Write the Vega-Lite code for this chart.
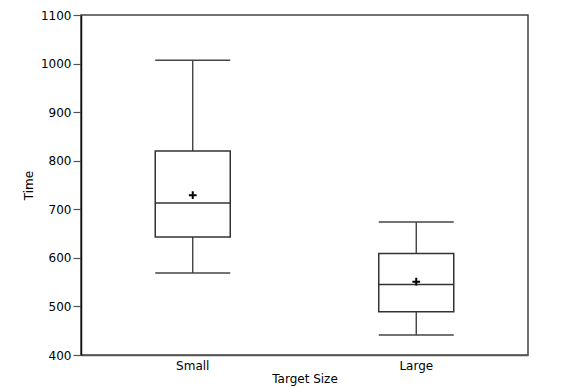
{
  "$schema": "https://vega.github.io/schema/vega-lite/v6.json",
  "autosize": "none",
  "padding": {"left": 81, "top": 15, "right": 33, "bottom": 33},
  "width": 447,
  "height": 340,
  "background": "white",
  "data": {
    "values": [
      {"size": "Small", "lower": 569, "q1": 643, "median": 713, "q3": 820, "upper": 1007, "mean": 729},
      {"size": "Large", "lower": 441, "q1": 489, "median": 545, "q3": 609, "upper": 674, "mean": 551}
    ]
  },
  "encoding": {
    "x": {
      "field": "size",
      "type": "nominal",
      "sort": ["Small", "Large"],
      "scale": {"paddingInner": 0, "paddingOuter": 0},
      "axis": {
        "title": "Target Size",
        "labelAngle": 0,
        "ticks": false,
        "labelPadding": 5,
        "titlePadding": 2,
        "domainColor": "#555",
        "domainWidth": 1.5
      }
    }
  },
  "layer": [
    {
      "mark": {"type": "rule", "stroke": "#333", "strokeWidth": 1.3},
      "encoding": {
        "y": {
          "field": "lower",
          "type": "quantitative",
          "scale": {"domain": [400, 1100], "nice": false, "zero": false},
          "axis": {
            "title": "Time",
            "format": "d",
            "values": [400, 500, 600, 700, 800, 900, 1000, 1100],
            "grid": false,
            "tickSize": 8,
            "tickColor": "#555",
            "tickWidth": 1.2,
            "labelPadding": 2,
            "titlePadding": 5,
            "domainColor": "#111",
            "domainWidth": 1.5
          }
        },
        "y2": {"field": "q1"}
      }
    },
    {
      "mark": {"type": "rule", "stroke": "#333", "strokeWidth": 1.3},
      "encoding": {
        "y": {"field": "q3", "type": "quantitative"},
        "y2": {"field": "upper"}
      }
    },
    {
      "mark": {"type": "bar", "size": 75, "fill": "white", "stroke": "#333", "strokeWidth": 1.5},
      "encoding": {
        "y": {"field": "q1", "type": "quantitative"},
        "y2": {"field": "q3"}
      }
    },
    {
      "mark": {"type": "tick", "size": 75, "thickness": 1.5, "color": "#444", "opacity": 1},
      "encoding": {"y": {"field": "lower", "type": "quantitative"}}
    },
    {
      "mark": {"type": "tick", "size": 75, "thickness": 1.5, "color": "#444", "opacity": 1},
      "encoding": {"y": {"field": "upper", "type": "quantitative"}}
    },
    {
      "mark": {"type": "tick", "size": 75, "thickness": 1.5, "color": "#333", "opacity": 1},
      "encoding": {"y": {"field": "median", "type": "quantitative"}}
    },
    {
      "mark": {"type": "point", "shape": "M-1,0H1M0,-1V1", "size": 60, "filled": false, "stroke": "#000", "strokeWidth": 2, "opacity": 1},
      "encoding": {"y": {"field": "mean", "type": "quantitative"}}
    }
  ],
  "config": {
    "view": {"stroke": "#444", "strokeWidth": 1.5},
    "axis": {
      "labelFont": "DejaVu Sans",
      "labelFontSize": 12,
      "labelColor": "#000",
      "titleFont": "DejaVu Sans",
      "titleFontSize": 12,
      "titleFontWeight": "normal",
      "titleColor": "#000"
    }
  }
}
